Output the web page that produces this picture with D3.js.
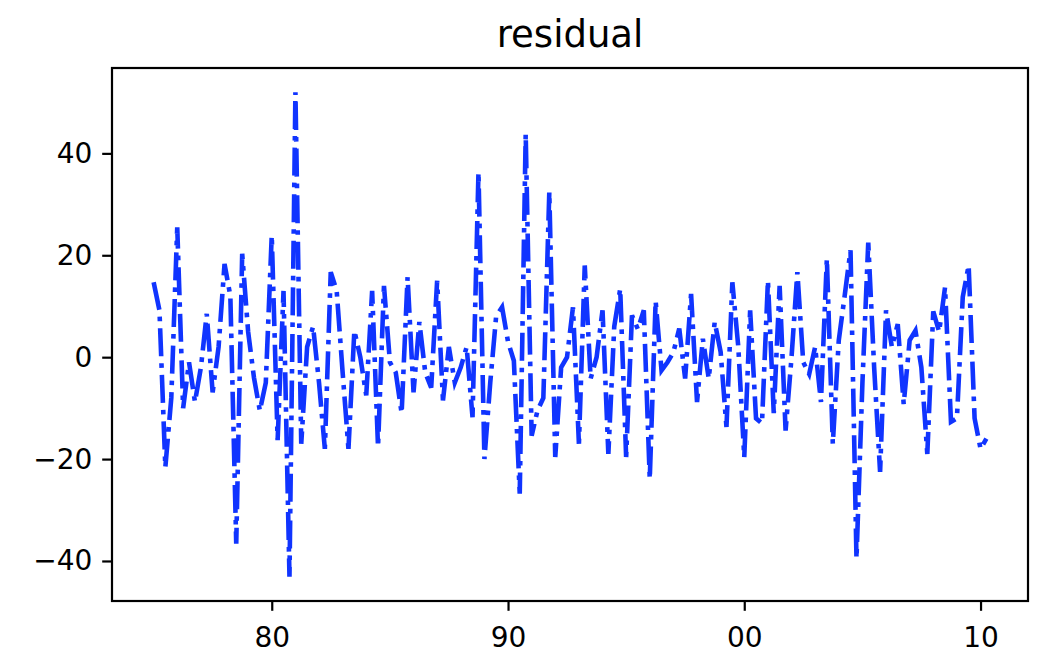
<!DOCTYPE html>
<html>
<head>
<meta charset="utf-8">
<script src="https://cdn.jsdelivr.net/npm/d3@7"></script>
<style>
  body { margin: 0; background: #fff; }
  svg { display: block; font-family: "DejaVu Sans", sans-serif; }
</style>
</head>
<body>
<div id="chart"></div>
<script>
// quarterly residuals, 1975Q1 .. 2010Q2
var start_year = 1975;
var residual = [
    14.7, 9.2, -21.6, -8, 25.5, -10, -1, -8.8, -2, 8.5,
    -6.9, 2, 18.3, 12, -36.6, 20.3, 5, -4, -10.5, -5,
    23.9, -16.3, 13, -43.1, 52, -17, 2, 6, -5, -18,
    16.7, 13, -3, -18, 5.2, 0, -7.5, 13, -17.6, 14,
    -1, -3, -11, 15.7, -6.9, 6.9, -3, -6, 15, -8.5,
    2, -5, -2, 2, -11.8, 36.3, -20, -5, 8, 9.8,
    3, -0.7, -26.8, 43.8, -15.4, -10.5, -8, 32.4, -19.6, -2,
    0, 9.8, -17, 18, -4.2, 0, 9.2, -19, 6, 13.4,
    -19.6, 8.2, 5.5, 9.2, -23.9, 11, -2.6, -1, 1, 5.6,
    -4.2, 12.4, -8.8, 3.6, -4.2, 6.9, 1, -13.7, 14.7, 2,
    -19.6, 9.2, -12, -13, 15, -11, 14, -14.4, 0, 16.7,
    -1, -3.3, 2, -8.8, 19.3, -17, 3.3, 12, 21, -39.5,
    -5, 22.5, -2, -22.5, 9.2, 2, 6.5, -9.2, 3.3, 5.2,
    -2, -19, 9, 5, 13.7, -12.7, -12, 11.8, 18, -12,
    -18, -16
];
var y_ticks = [-40, -20, 0, 20, 40];
var x_tick_years = [1980, 1990, 2000, 2010];
var chart_title = "residual";

var data = residual.map(function(v, i) {
    return { date: new Date(start_year + Math.floor(i / 4), (i % 4) * 3, 1), value: v };
});

var fig_width = 1044, fig_height = 654;
var plot_left = 112, plot_right = 1028, plot_top = 68, plot_bottom = 601;

var svg = d3.select("#chart").append("svg")
    .attr("width", fig_width)
    .attr("height", fig_height);

// matplotlib style 5% margins
var xext = d3.extent(data, function(d) { return d.date.getTime(); });
var xpad = (xext[1] - xext[0]) * 0.05;
var x = d3.scaleTime()
    .domain([new Date(xext[0] - xpad), new Date(xext[1] + xpad)])
    .range([plot_left, plot_right]);

var yext = d3.extent(data, function(d) { return d.value; });
var ypad = (yext[1] - yext[0]) * 0.05;
var y = d3.scaleLinear()
    .domain([yext[0] - ypad, yext[1] + ypad])
    .range([plot_bottom, plot_top]);

var line = d3.line()
    .x(function(d) { return x(d.date); })
    .y(function(d) { return y(d.value); });

svg.append("path")
    .datum(data)
    .attr("d", line)
    .attr("fill", "none")
    .attr("stroke", "#1034ff")
    .attr("stroke-width", 4.6)
    .attr("stroke-dasharray", "28,7,4.6,7");

// axes
var fmt = d3.timeFormat("%y");
var xAxis = d3.axisBottom(x)
    .tickValues(x_tick_years.map(function(yr) { return new Date(yr, 0, 1); }))
    .tickFormat(fmt)
    .tickSize(9.8)
    .tickPadding(16);
var yAxis = d3.axisLeft(y)
    .tickValues(y_ticks)
    .tickFormat(function(d) { return d < 0 ? "\u2212" + Math.abs(d) : d; })
    .tickSize(9.8)
    .tickPadding(9.8);

var gx = svg.append("g").attr("transform", "translate(0," + plot_bottom + ")").call(xAxis);
var gy = svg.append("g").attr("transform", "translate(" + plot_left + ",0)").call(yAxis);

[gx, gy].forEach(function(g) {
    g.select(".domain").remove();
    g.selectAll("line").attr("stroke", "#000").attr("stroke-width", 2.2);
    g.selectAll("text")
        .attr("fill", "#000")
        .style("font-size", "28px")
        .style("font-family", "DejaVu Sans, sans-serif");
});

// frame
svg.append("rect")
    .attr("x", plot_left)
    .attr("y", plot_top)
    .attr("width", plot_right - plot_left)
    .attr("height", plot_bottom - plot_top)
    .attr("fill", "none")
    .attr("stroke", "#000")
    .attr("stroke-width", 2.2);

svg.append("text")
    .attr("x", (plot_left + plot_right) / 2)
    .attr("y", 47)
    .attr("text-anchor", "middle")
    .style("font-size", "37px")
    .text(chart_title);
</script>
</body>
</html>
